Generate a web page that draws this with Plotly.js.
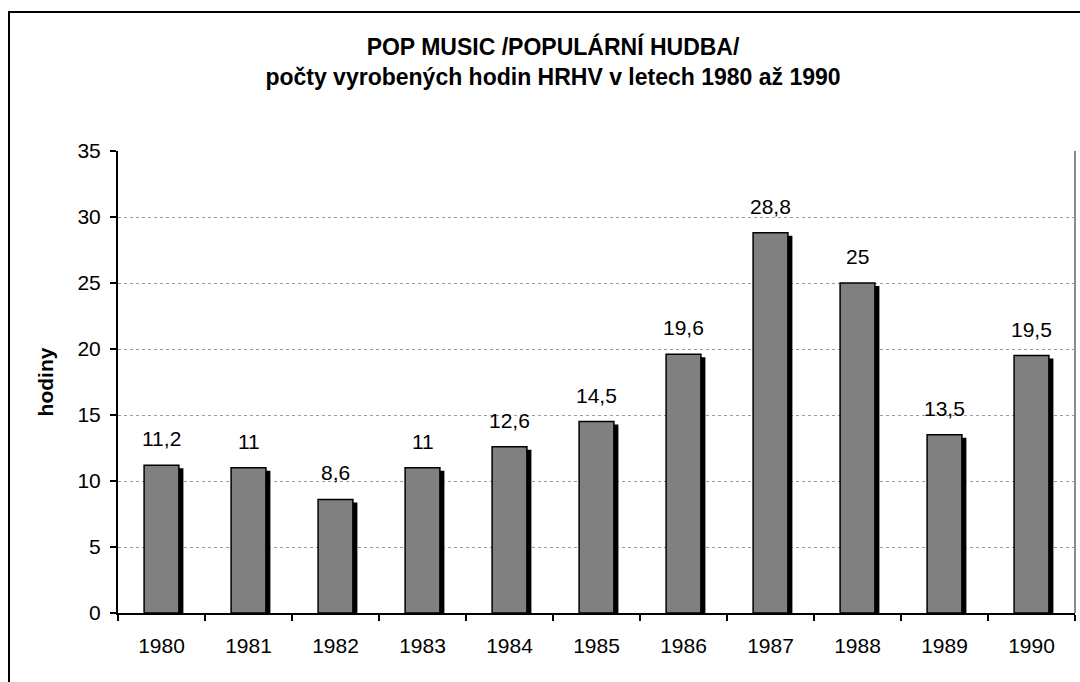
<!DOCTYPE html>
<html>
<head>
<meta charset="utf-8">
<script src="https://cdn.plot.ly/plotly-3.0.1.min.js"></script>
<style>
  html, body { margin: 0; padding: 0; background: #fff; overflow: hidden; }
  #chart { width: 1080px; height: 682px; }
</style>
</head>
<body>
<div id="chart"></div>
<script>
// ---- data ----
const years = ['1980', '1981', '1982', '1983', '1984', '1985', '1986', '1987', '1988', '1989', '1990'];
const hours = [11.2, 11, 8.6, 11, 12.6, 14.5, 19.6, 28.8, 25, 13.5, 19.5];
const yTickValues = [0, 5, 10, 15, 20, 25, 30, 35];
const titleLines = ['POP MUSIC /POPULÁRNÍ HUDBA/', 'počty vyrobených hodin HRHV v letech 1980 až 1990'];
const yTitle = 'hodiny';

// ---- layout constants ----
const W = 1080, H = 682;
const M = { l: 118, r: 5, t: 151, b: 69 };
const PW = W - M.l - M.r, PH = H - M.t - M.b;
const Y_MAX = 35;
const FONT = '"Liberation Sans", Arial, sans-serif';
const LABEL_SIZE = 21;
const barWidth = 0.4;
const shadowDx = 4.5 / (PW / years.length);   // px -> category units
const shadowDy = 3 / (PH / Y_MAX);            // px -> value units

const fmt = v => String(v).replace('.', ',');

const shadow = {
  type: 'bar', x: years, y: hours,
  base: hours.map(() => -shadowDy),
  width: barWidth, offset: -barWidth / 2 + shadowDx,
  marker: { color: '#000000', line: { width: 0 } },
  hoverinfo: 'skip', showlegend: false
};
const bars = {
  type: 'bar', x: years, y: hours,
  width: barWidth, offset: -barWidth / 2,
  marker: { color: '#808080', line: { color: '#000000', width: 1.5 } },
  showlegend: false
};

// value labels: x given as category index (numeric strings would be read as indices)
const labels = years.map((yr, i) => ({
  x: i, y: hours[i], xref: 'x', yref: 'y',
  text: fmt(hours[i]), showarrow: false,
  xanchor: 'center', yanchor: 'bottom', yshift: 13,
  font: { family: FONT, size: LABEL_SIZE, color: '#000' }
}));

const px2x = p => (p - M.l) / PW;
const px2y = p => (H - M.b - p) / PH;

const layout = {
  width: W, height: H,
  margin: M,
  paper_bgcolor: '#ffffff', plot_bgcolor: '#ffffff',
  barmode: 'overlay',
  separators: ',.',
  font: { family: FONT, size: LABEL_SIZE, color: '#000' },
  title: {
    text: titleLines.join('<br>'),
    font: { family: FONT, size: 23, color: '#000', weight: 'bold' },
    xref: 'container', x: 553 / W, xanchor: 'center',
    yref: 'container', y: 1 - 55 / H, yanchor: 'middle'
  },
  xaxis: {
    type: 'category',
    categoryorder: 'array', categoryarray: years,
    range: [-0.5, years.length - 0.5],
    showline: true, linecolor: '#000', linewidth: 2,
    ticks: 'outside', tickson: 'boundaries', ticklen: 6, tickwidth: 2, tickcolor: '#000',
    showgrid: false, zeroline: false,
    tickfont: { family: FONT, size: LABEL_SIZE, color: '#000' },
    ticklabelstandoff: 13
  },
  yaxis: {
    range: [0, Y_MAX],
    tickvals: yTickValues,
    showline: true, linecolor: '#000', linewidth: 2,
    ticks: 'outside', ticklen: 6, tickwidth: 2, tickcolor: '#000',
    showgrid: true, gridcolor: '#9a9a9a', griddash: 'dot', gridwidth: 1,
    zeroline: false,
    tickfont: { family: FONT, size: LABEL_SIZE, color: '#000' },
    ticklabelstandoff: 5,
    title: {
      text: yTitle, standoff: 18,
      font: { family: FONT, size: 21, color: '#000', weight: 'bold' }
    }
  },
  annotations: labels,
  shapes: [
    { type: 'line', xref: 'paper', yref: 'paper', x0: 1, x1: 1, y0: 0, y1: 1,
      line: { color: '#8c8c8c', width: 2 } },
    { type: 'rect', xref: 'paper', yref: 'paper',
      x0: px2x(9), x1: px2x(W + 30), y0: px2y(H + 30), y1: px2y(12),
      line: { color: '#000', width: 2 }, fillcolor: 'rgba(0,0,0,0)', layer: 'above' }
  ]
};

Plotly.newPlot('chart', [shadow, bars], layout, { staticPlot: true, displayModeBar: false });
</script>
</body>
</html>
